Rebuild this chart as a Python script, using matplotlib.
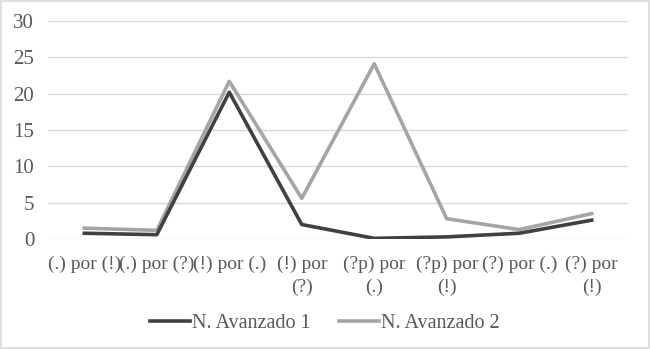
import matplotlib
matplotlib.use("Agg")
import matplotlib.pyplot as plt
import numpy as np

categories = ["(.) por (!)", "(.) por (?)", "(!) por (.)", "(!) por\n(?)",
              "(?p) por\n(.)", "(?p) por\n(!)", "(?) por (.)", "(?) por\n(!)"]
avanzado_1 = [0.8, 0.6, 20.2, 2.0, 0.1, 0.3, 0.8, 2.6]
avanzado_2 = [1.5, 1.2, 21.7, 5.6, 24.1, 2.8, 1.3, 3.5]
y_ticks = [0, 5, 10, 15, 20, 25, 30]

plt.rcParams["font.family"] = ["Liberation Serif", "DejaVu Serif"]
TEXT = "#595959"
FS = 14

fig = plt.figure(figsize=(6.5, 3.49), dpi=100)
ax = fig.add_axes([0.074, 0.315, 0.892, 0.625])

x = np.arange(len(categories))
ax.plot(x, avanzado_1, color="#404040", lw=2.6, label="N. Avanzado 1",
        solid_joinstyle="round", zorder=3)
ax.plot(x, avanzado_2, color="#A5A5A5", lw=2.6, label="N. Avanzado 2",
        solid_joinstyle="round", zorder=2)

ax.set_xlim(-0.5, len(categories) - 0.5)
ax.set_ylim(0, 30)
ax.set_yticks(y_ticks)
ax.set_xticks(x)
ax.set_xticklabels(categories, fontsize=FS, color=TEXT, linespacing=1.4)
ax.tick_params(axis="y", labelsize=FS + 1, labelcolor=TEXT, length=0, pad=10)
ax.tick_params(axis="x", length=0, pad=12)
ax.grid(axis="y", color="#D9D9D9", lw=1)
ax.set_axisbelow(True)
for s in ax.spines.values():
    s.set_visible(False)

leg = fig.legend(loc="center", bbox_to_anchor=(0.5, 0.074), ncol=2, frameon=False,
                 fontsize=FS + 0.5, handlelength=2.0, handletextpad=0.1, columnspacing=1.4)
for t in leg.get_texts():
    t.set_color(TEXT)

fig.patches.append(plt.Rectangle((0.001, 0.002), 0.997, 0.996, transform=fig.transFigure,
                                 fill=False, edgecolor="#D9D9D9", lw=1.2))

fig.savefig("out.png", dpi=100)
